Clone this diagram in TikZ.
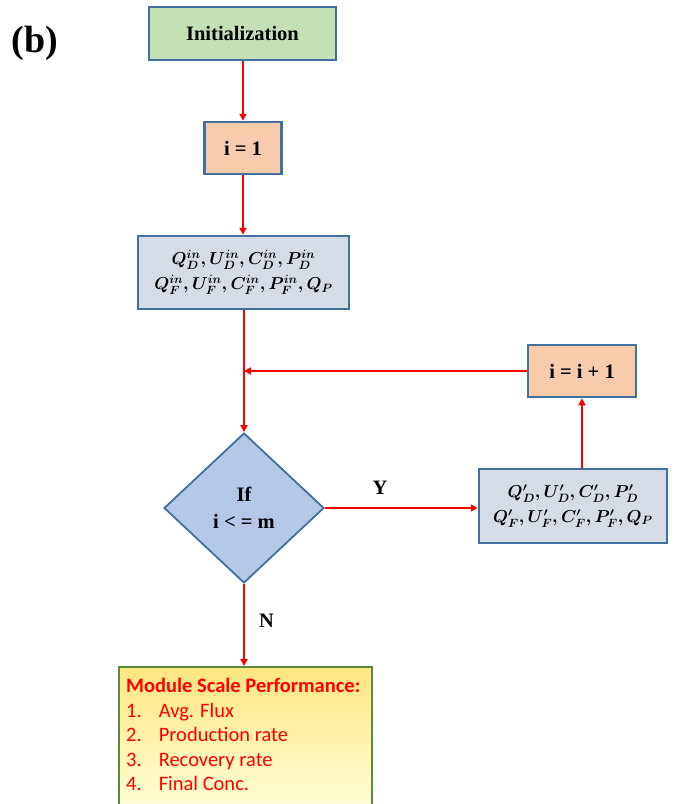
\documentclass[tikz,border=0pt]{standalone}
\usepackage{fontspec}
\setmainfont{Liberation Serif}
\newfontfamily\calfont{Carlito}
\usepackage{amsmath}
\usetikzlibrary{shapes.geometric,arrows.meta}
\definecolor{edgeblue}{HTML}{41719C}
\definecolor{initgreen}{HTML}{C5E0B4}
\definecolor{peach}{HTML}{F8CBAD}
\definecolor{paramgrey}{HTML}{D6DCE5}
\definecolor{decblue}{HTML}{B4C7E7}
\definecolor{resgreen}{HTML}{5B8A3A}
\definecolor{flowred}{HTML}{FF0000}
\tikzset{
  x=1pt, y=-1pt,
  box/.style={draw=edgeblue, line width=2.5pt, rectangle, inner sep=0pt, align=center,
    font=\fontsize{20.5}{26}\selectfont\bfseries},
  parambox/.style={box, fill=paramgrey, font=\fontsize{18.5}{25}\selectfont\boldmath},
  decision/.style={diamond, draw=edgeblue, line width=1.8pt, fill=decblue, inner sep=0pt,
    minimum width=160pt, minimum height=150pt, align=center,
    font=\fontsize{20.5}{27}\selectfont\bfseries},
  flow/.style={draw=flowred, line width=2pt, -{Triangle[length=7pt,width=7pt]}},
  tag/.style={font=\fontsize{20.5}{24}\selectfont\bfseries, inner sep=0pt}
}
\begin{document}
\begin{tikzpicture}
\clip (0,0) rectangle (678,804);
\fill[white] (0,0) rectangle (678,804);

% panel label
\node[font=\fontsize{38}{42}\selectfont\bfseries, inner sep=0pt] (lbl) at (35,43) {(b)};

% boxes
\node[box, fill=initgreen, minimum width=187pt, minimum height=53pt] (init) at (242.5,33.5) {Initialization};
\node[box, fill=peach, minimum width=77pt, minimum height=52pt] (ione) at (243,148) {i = 1};
\node[parambox, minimum width=211pt, minimum height=73pt] (inparams) at (243.5,272.5)
  {$Q_D^{in}, U_D^{in}, C_D^{in}, P_D^{in}$\\ $Q_F^{in}, U_F^{in}, C_F^{in}, P_F^{in}, Q_P$};
\node[box, fill=peach, minimum width=108pt, minimum height=52pt] (inc) at (582,371) {i = i + 1};
\node[decision] (test) at (244,508) {If\\ i < = m};
\node[parambox, minimum width=188pt, minimum height=74pt] (outparams) at (573,506)
  {$Q'_D, U'_D, C'_D, P'_D$\\ $Q'_F, U'_F, C'_F, P'_F, Q_P$};

% result box
\shade[top color=yellow!60!orange!50!white, bottom color=yellow!15!white, draw=resgreen, line width=2pt]
  (119,667) rectangle (372,812);
\coordinate (restop) at (244,666);
\node[anchor=north west, inner sep=0pt, align=left, text=flowred,
  font=\calfont\fontsize{20.5}{24.6}\selectfont] (results) at (126,678)
  {\textbf{Module Scale Performance:}\\
   1.\hspace{17pt}Avg. Flux\\
   2.\hspace{17pt}Production rate\\
   3.\hspace{17pt}Recovery rate\\
   4.\hspace{17pt}Final Conc.};

% connectors
\coordinate (join) at (244,371);
\draw[flow] (init.south -| ione) -- (ione.north);
\draw[flow] (ione.south) -- (inparams.north -| ione);
\draw[flow] (inparams.south -| test) -- (test.north);
\draw[flow] (inc.west) -- (join);
\draw[flow] (test.east) -- node[tag, pos=0.36, above=13pt] (ylab) {Y} (outparams.west |- test.east);
\draw[flow] (outparams.north -| inc) -- (inc.south);
\draw[flow] (test.south) -- node[tag, pos=0.45, right=14pt] (nlab) {N} (restop);
\end{tikzpicture}
\end{document}
